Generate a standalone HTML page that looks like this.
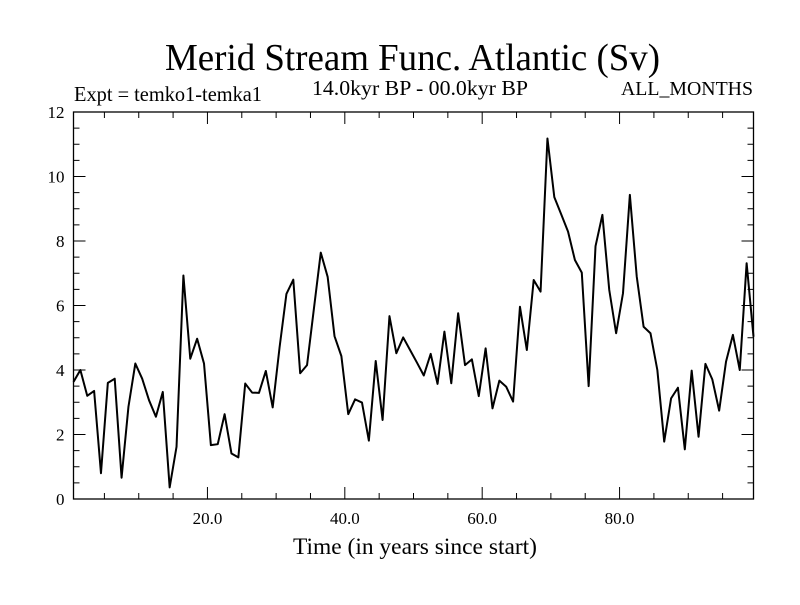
<!DOCTYPE html>
<html><head><meta charset="utf-8"><style>
html,body{margin:0;padding:0;background:#fff;}
svg text{font-family:"Liberation Serif",serif;fill:#000;}
</style></head><body>
<svg id="chart" width="800" height="600" xmlns="http://www.w3.org/2000/svg">
<rect width="800" height="600" fill="#fff"/>
<text x="165" y="70" font-size="38" textLength="495" lengthAdjust="spacingAndGlyphs">Merid Stream Func. Atlantic (Sv)</text>
<text x="74" y="101" font-size="21" textLength="188" lengthAdjust="spacingAndGlyphs">Expt = temko1-temka1</text>
<text x="312" y="95" font-size="21" textLength="216" lengthAdjust="spacingAndGlyphs">14.0kyr BP - 00.0kyr BP</text>
<text x="621" y="95" font-size="20" textLength="132" lengthAdjust="spacingAndGlyphs">ALL_MONTHS</text>
<text x="293" y="554" font-size="23" textLength="244" lengthAdjust="spacingAndGlyphs">Time (in years since start)</text>
<g id="axes"></g>
<path id="series" fill="none" stroke="#000" stroke-width="2" stroke-linejoin="round"/>
<rect x="73.5" y="112" width="680" height="387" fill="none" stroke="#000" stroke-width="1.3"/>
</svg>
<script>
const values = [3.63,4.0,3.2,3.35,0.8,3.6,3.73,0.66,2.86,4.2,3.73,3.06,2.55,3.32,0.36,1.62,6.93,4.35,4.97,4.2,
1.67,1.7,2.63,1.41,1.29,3.58,3.3,3.29,3.97,2.84,4.7,6.36,6.8,3.9,4.15,5.9,7.64,6.89,5.05,4.43,
2.63,3.09,2.99,1.81,4.28,2.45,5.67,4.52,5.01,4.62,4.23,3.83,4.5,3.57,5.19,3.59,5.76,4.15,4.33,3.19,
4.67,2.81,3.67,3.48,3.02,5.96,4.62,6.79,6.43,11.18,9.36,8.83,8.29,7.41,7.02,3.5,7.84,8.81,6.48,5.14,
6.38,9.43,6.9,5.34,5.14,4.0,1.78,3.12,3.45,1.54,3.98,1.93,4.19,3.71,2.74,4.26,5.09,4.0,7.31,5.03];
const yTicks = [0,2,4,6,8,10,12];
const xTicks = [20,40,60,80];
const xTickLabels = ["20.0","40.0","60.0","80.0"];
const xMin = 0.5, xMax = 99.5, yMin = 0, yMax = 12;
const L = 73.5, R = 753.5, T = 112, B = 499;
function sx(t){return L + (t - xMin) / (xMax - xMin) * (R - L);}
function sy(v){return B - (v - yMin) / (yMax - yMin) * (B - T);}
const NS = "http://www.w3.org/2000/svg";
const g = document.getElementById('axes');
function line(x1,y1,x2,y2,name){
  const l = document.createElementNS(NS,'line');
  l.setAttribute('x1',x1);l.setAttribute('y1',y1);l.setAttribute('x2',x2);l.setAttribute('y2',y2);
  l.setAttribute('stroke','#000');l.setAttribute('stroke-width','1');
  
  
  g.appendChild(l);
}
function text(x,y,s,anchor,name){
  const t = document.createElementNS(NS,'text');
  t.setAttribute('x',x);t.setAttribute('y',y);t.setAttribute('font-size','17');t.setAttribute('text-anchor',anchor);
  t.textContent = s;
  
  
  g.appendChild(t);
}
for(let v=yMin; v<=yMax+1e-9; v+=0.5){
  const y = sy(v);
  const major = Math.abs(v/2 - Math.round(v/2))<1e-9;
  const len = major ? 12 : 6;
  line(L,y,L+len,y,'y-tick');
  line(R,y,R-len,y,'y-tick-right');
}
yTicks.forEach(v=>text(L-9, sy(v)+6, String(v), 'end', 'y-tick-label'));
for(let t=5; t<xMax; t+=5){
  const x = sx(t);
  const len = (t%20===0) ? 12 : 6;
  line(x,B,x,B-len,'x-tick');
  line(x,T,x,T+len,'x-tick-top');
}
xTicks.forEach((t,i)=>text(sx(t), B+25, xTickLabels[i], 'middle', 'x-tick-label'));
const d = values.map((v,i)=>(i?'L':'M')+sx(xMin+i).toFixed(2)+','+sy(v).toFixed(2)).join(' ');
document.getElementById('series').setAttribute('d', d);
</script>
</body></html>
